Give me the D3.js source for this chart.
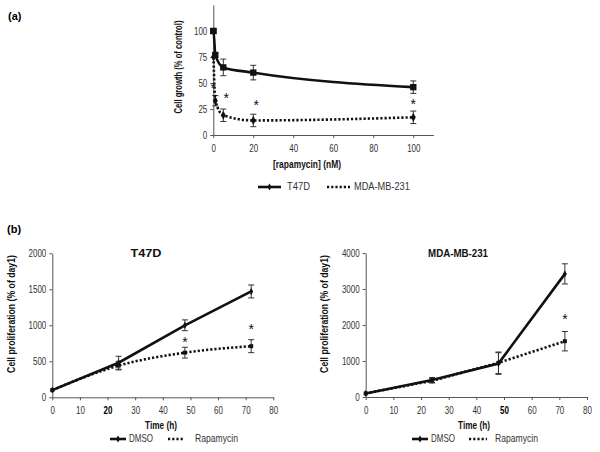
<!DOCTYPE html>
<html><head><meta charset="utf-8">
<script src="https://cdn.jsdelivr.net/npm/d3@7"></script>
<style>body{margin:0;background:#fff}svg text{font-family:"Liberation Sans",Arial,sans-serif}</style>
</head><body><svg id="c" width="600" height="452"></svg>
<script>
// Panel (a) data
const concT47D = [0, 0.1, 1, 5, 20, 100];
const growthT47D = [100, 100, 77, 65, 60, 46];
const errT47D = [0, 0, 2, 8, 7, 6];
const concMDA = [0.1, 1, 5, 20, 100];
const growthMDA = [75, 33, 19, 14, 17];
const errMDA = [0, 5, 6, 6, 6];
const starsA = [[0, 46], [6.5, 37], [21.5, 30], [100, 31]];
const ticksAx = [0, 20, 40, 60, 80, 100];
const ticksAy = [0, 25, 50, 75, 100];

// Panel (b) data
const timeH = [0, 24, 48, 72];
const t47dDMSO = [100, 480, 1000, 1470];
const t47dDMSOerr = [0, 90, 75, 90];
const t47dRapa = [100, 440, 620, 710];
const t47dRapaErr = [0, 60, 75, 90];
const t47dStars = [[48, 780], [72, 960]];
const mdaDMSO = [100, 470, 930, 3420];
const mdaDMSOerr = [0, 70, 300, 280];
const mdaRapa = [100, 450, 950, 1550];
const mdaRapaErr = [0, 60, 300, 270];
const mdaStars = [[72, 2200]];
const ticksBx = [0, 10, 20, 30, 40, 50, 60, 70, 80];
const ticksBy1 = [0, 500, 1000, 1500, 2000];
const ticksBy2 = [0, 1000, 2000, 3000, 4000];

const svg = d3.select("#c");
const C = "#111";
const NARROW = 0.8;

// condense text horizontally with a transform (reference uses a narrow sans face)
function squeeze(el, ratio) {
  const s = d3.select(el);
  const x = +s.attr("x") || 0, y = +s.attr("y") || 0;
  const base = s.attr("transform") || "";
  s.attr("transform", `${base} translate(${x},${y}) scale(${ratio},1) translate(${-x},${-y})`);
}

function axes(g, x, y, xt, yt, boldX) {
  const ax = g.append("g").attr("transform", `translate(0,${y.range()[0]})`)
    .call(d3.axisBottom(x).tickValues(xt).tickSize(3).tickSizeOuter(0).tickFormat(d3.format("d")));
  const ay = g.append("g").attr("transform", `translate(${x.range()[0]},0)`)
    .call(d3.axisLeft(y).tickValues(yt).tickSize(3).tickSizeOuter(0).tickFormat(d3.format("d")));
  [ax, ay].forEach(a => {
    a.select(".domain").attr("stroke", "#555").attr("stroke-width", 1);
    a.selectAll(".tick line").attr("stroke", "#555");
    a.selectAll("text").attr("font-size", 10).attr("fill", "#333")
      .attr("font-family", "Liberation Sans, Arial, sans-serif");
  });
  ax.selectAll("text").attr("dy", "1.1em");
  if (boldX !== undefined) ax.selectAll("text").filter(d => d === boldX).attr("font-weight", "bold").attr("fill", "#000");
  ax.selectAll("text").each(function () { squeeze(this, NARROW); });
  ay.selectAll("text").each(function () { squeeze(this, NARROW); });
}

function series(g, x, y, xs, ys, es, dashed, marker, msize, curve) {
  const pts = xs.map((v, i) => [v, ys[i], es[i]]);
  g.append("g").selectAll("g").data(pts.filter(p => p[2] > 0)).join("g").each(function (p) {
    const s = d3.select(this), cx = x(p[0]);
    s.append("line").attr("x1", cx).attr("x2", cx).attr("y1", y(p[1] - p[2])).attr("y2", y(p[1] + p[2])).attr("stroke", "#333").attr("stroke-width", 1);
    [p[1] - p[2], p[1] + p[2]].forEach(v => s.append("line").attr("x1", cx - 3).attr("x2", cx + 3).attr("y1", y(v)).attr("y2", y(v)).attr("stroke", "#333").attr("stroke-width", 1));
  });
  g.append("path").datum(pts).attr("fill", "none").attr("stroke", C)
    .attr("stroke-width", 2.6).attr("stroke-dasharray", dashed ? "2.2,2" : null)
    .attr("d", d3.line().x(p => x(p[0])).y(p => y(p[1])).curve(curve || d3.curveLinear));
  g.append("g").selectAll("path").data(pts).join("path")
    .attr("transform", p => `translate(${x(p[0])},${y(p[1])})`)
    .attr("d", d3.symbol().type(marker).size(msize)).attr("fill", C);
}

function stars(g, x, y, arr) {
  g.append("g").selectAll("text").data(arr).join("text")
    .attr("x", d => x(d[0])).attr("y", d => y(d[1]) + 6).attr("text-anchor", "middle")
    .attr("font-size", 14).attr("fill", C).text("*");
}

function legend(g, y0, items) {
  items.forEach(it => {
    g.append("line").attr("x1", it.lx1).attr("x2", it.lx2).attr("y1", y0).attr("y2", y0)
      .attr("stroke", C).attr("stroke-width", 2.6).attr("stroke-dasharray", it.dashed ? "2.2,2" : null);
    if (!it.dashed) g.append("path").attr("transform", `translate(${(it.lx1 + it.lx2) / 2},${y0})`)
      .attr("d", d3.symbol().type(d3.symbolDiamond).size(14)).attr("fill", C);
    const t = g.append("text").attr("x", it.tx).attr("y", y0 + 3.5).attr("font-size", 10.5).attr("fill", "#333").text(it.label);
    squeeze(t.node(), it.w / t.node().getComputedTextLength());
  });
}

function title(g, x, y, txt, size, w, rot) {
  const t = g.append("text").attr("text-anchor", "middle").attr("font-size", size)
    .attr("font-weight", "bold").attr("fill", "#111").text(txt);
  const r = w / t.node().getComputedTextLength();
  t.attr("transform", `translate(${x},${y})` + (rot ? " rotate(-90)" : "") + ` scale(${r},1)`);
}

// ---------- Panel (a)
svg.append("text").attr("x", 8).attr("y", 20).attr("font-size", 11).attr("font-weight", "bold").text("(a)");
const gA = svg.append("g");
const xA = d3.scaleLinear().domain([0, 110]).range([213.3, 433.3]);
const yA = d3.scaleLinear().domain([0, 125]).range([135, 5]);
axes(gA, xA, yA, ticksAx, ticksAy);
series(gA, xA, yA, concMDA, growthMDA, errMDA, true, d3.symbolDiamond, 22, d3.curveMonotoneX);
series(gA, xA, yA, concT47D, growthT47D, errT47D, false, d3.symbolSquare, 40, d3.curveMonotoneX);
stars(gA, xA, yA, starsA);
title(gA, 307, 168, "[rapamycin] (nM)", 10, 68);
title(gA, 182, 67, "Cell growth (% of control)", 10, 93, true);
legend(gA, 187, [
  { lx1: 258, lx2: 281, tx: 287, label: "T47D", dashed: false, w: 23 },
  { lx1: 327, lx2: 350, tx: 354, label: "MDA-MB-231", dashed: true, w: 56 }
]);

// ---------- Panel (b)
svg.append("text").attr("x", 7).attr("y", 233).attr("font-size", 11).attr("font-weight", "bold").text("(b)");

const gL = svg.append("g");
const xL = d3.scaleLinear().domain([0, 80]).range([52.3, 273.3]);
const yL = d3.scaleLinear().domain([0, 2000]).range([397.3, 253.3]);
axes(gL, xL, yL, ticksBx, ticksBy1, 20);
series(gL, xL, yL, timeH, t47dRapa, t47dRapaErr, true, d3.symbolSquare, 16, d3.curveMonotoneX);
series(gL, xL, yL, timeH, t47dDMSO, t47dDMSOerr, false, d3.symbolDiamond, 14);
stars(gL, xL, yL, t47dStars);
title(gL, 146, 257, "T47D", 11.5, 31);
title(gL, 161, 429, "Time (h)", 10, 32);
title(gL, 15, 314, "Cell proliferation (% of day1)", 10, 118, true);
legend(gL, 439, [
  { lx1: 110, lx2: 126, tx: 129, label: "DMSO", dashed: false, w: 24 },
  { lx1: 168, lx2: 184, tx: 195, label: "Rapamycin", dashed: true, w: 43 }
]);

const gR = svg.append("g");
const xR = d3.scaleLinear().domain([0, 80]).range([365.7, 587]);
const yR = d3.scaleLinear().domain([0, 4000]).range([397, 253]);
axes(gR, xR, yR, ticksBx, ticksBy2, 50);
series(gR, xR, yR, timeH, mdaRapa, mdaRapaErr, true, d3.symbolSquare, 16);
series(gR, xR, yR, timeH, mdaDMSO, mdaDMSOerr, false, d3.symbolDiamond, 14);
stars(gR, xR, yR, mdaStars);
title(gR, 458, 257, "MDA-MB-231", 11.5, 60);
title(gR, 474, 429, "Time (h)", 10, 32);
title(gR, 328, 314, "Cell proliferation (% of day1)", 10, 118, true);
legend(gR, 439, [
  { lx1: 412, lx2: 428, tx: 431, label: "DMSO", dashed: false, w: 24 },
  { lx1: 469, lx2: 487, tx: 495, label: "Rapamycin", dashed: true, w: 43 }
]);
</script></body></html>
